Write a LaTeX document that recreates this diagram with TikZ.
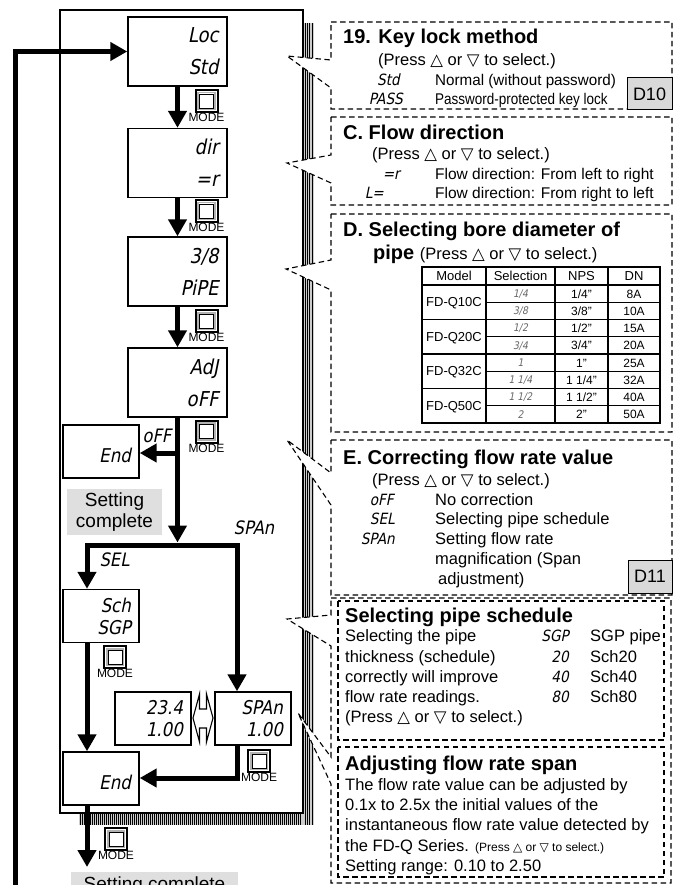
\documentclass[tikz,border=0pt]{standalone}
\usepackage{fontspec}
\setmainfont{Liberation Sans}
\newfontfamily\symf{DejaVu Sans}
\newfontfamily\segf{DejaVu Sans}[FakeSlant=0.2,FakeStretch=0.88]
\usetikzlibrary{arrows.meta}
\newcommand{\prs}{(Press {\symf △} or {\symf ▽} to select.)}
\begin{document}
\begin{tikzpicture}[x=1pt,y=-1pt,
  flow/.style={line width=5pt,-{Triangle[length=17pt,width=18pt]}},
  disp/.style={draw,line width=1.4pt,fill=white,inner xsep=8pt,inner ysep=0pt,align=right},
  bigdisp/.style={disp,minimum width=99pt,minimum height=69pt,text width=82pt,font=\segf\fontsize{20.5}{32}\selectfont},
  smalldisp/.style={disp,minimum width=76pt,minimum height=53pt,text width=60pt,font=\segf\fontsize{19}{22}\selectfont},
  modebtn/.style={draw,line width=2pt,minimum size=22pt,inner sep=0pt,fill=white,label distance=2pt,
    path picture={\draw[gray!60,line width=1.8pt] ([shift={(2.6pt,-2.6pt)}]path picture bounding box.north west) rectangle ([shift={(-2.6pt,2.6pt)}]path picture bounding box.south east);
    \draw[line width=0.5pt] ([shift={(3.8pt,-3.8pt)}]path picture bounding box.north west) rectangle ([shift={(-3.8pt,3.8pt)}]path picture bounding box.south east);},
    label={[modelbl]below:MODE}},
  modelbl/.style={font=\fontsize{12}{12}\selectfont,inner sep=0pt},
  ttl/.style={anchor=west,inner sep=0pt,text height=14.3pt,text depth=0pt,font=\fontsize{20}{24}\selectfont\bfseries},
  txt/.style={anchor=west,inner sep=0pt,text height=11pt,text depth=0pt,font=\fontsize{15.5}{19}\selectfont},
  txtb/.style={anchor=west,inner sep=0pt,text height=11.8pt,text depth=0pt,font=\fontsize{16.5}{19}\selectfont},
  sg/.style={anchor=east,inner sep=0pt,text height=11pt,text depth=0pt,font=\segf\fontsize{15.5}{17}\selectfont},
  cell/.style={inner sep=0pt,text height=9pt,text depth=0pt,font=\fontsize{13}{15}\selectfont},
  ncell/.style={cell,font=\fontsize{12}{14}\selectfont},
  tsg/.style={inner sep=0pt,text height=7.5pt,text depth=0pt,font=\segf\fontsize{10.5}{12}\selectfont,text=black!60},
  panel/.style={draw=black,dash pattern=on 5.5pt off 3.5pt,line width=1.1pt,fill=white},
  dbox/.style={draw,line width=1pt,fill=gray!30,inner sep=0pt,font=\fontsize{18}{18}\selectfont},
  done/.style={fill=gray!25,inner sep=0pt,align=center,font=\fontsize{19}{21}\selectfont},
  seglbl/.style={inner sep=0pt,font=\segf\fontsize{18.5}{20}\selectfont}]
\useasboundingbox (0,0) rectangle (695,885);
\clip (0,0) rectangle (695,885);

% shadow strip
\fill[gray!40] (302,23) rectangle (314,825);
\fill[gray!40] (79,812) rectangle (314,825);
\foreach \x in {80,82,...,300} \draw[line width=0.9pt] (\x,812) -- (\x,825);
\foreach \x in {305,307,309.5,312.5} \draw[line width=0.8pt] (\x,23) -- (\x,825);

% frame
\node[draw,line width=2pt,minimum width=243pt,minimum height=803pt,anchor=north west,inner sep=0pt] (frame) at (59,9) {};

% displays
\node[bigdisp] (loc) at (177.5,51.5) {Loc\\Std};
\node[bigdisp] (dir) at (177.5,163) {dir\\=r};
\node[bigdisp] (pipe) at (177.5,271.5) {3/8\\PiPE};
\node[bigdisp] (adj) at (177.5,382.5) {AdJ\\oFF};
\node[smalldisp] (end1) at (101,451.5) {\mbox{}\\End};
\node[smalldisp] (sch) at (101,616) {Sch\\SGP};
\node[smalldisp] (end2) at (101,778.5) {\mbox{}\\End};
\node[smalldisp] (val) at (153,718.5) {23.4\\1.00};
\node[smalldisp] (span) at (253,718.5) {SPAn\\1.00};

% mode buttons
\node[modebtn] (m1) at (206.5,101) {};
\node[modebtn] (m2) at (206.5,211) {};
\node[modebtn] (m3) at (206.5,321) {};
\node[modebtn] (m4) at (206.5,431.5) {};
\node[modebtn] (m5) at (115,657) {};
\node[modebtn] (m6) at (259,761) {};
\node[modebtn] (m7) at (116,839) {};

% labels
\node[seglbl] (lboff) at (157,436) {oFF};
\node[seglbl] (lbspan) at (254,528) {SPAn};
\node[seglbl] (lbsel) at (114.5,560) {SEL};
\node[done,minimum width=95pt,minimum height=46pt] (done1) at (114.5,512) {Setting\\complete};
\node[done,minimum width=167pt,anchor=north,inner ysep=4pt,text height=14pt,text depth=8pt] (done2) at (154.5,872) {Setting complete};

% flow connectors
\coordinate (loopstart) at (15,900);
\draw[flow] (loopstart) |- (loc.west);
\draw[flow] (loc.south) -- (dir.north);
\draw[flow] (dir.south) -- (pipe.north);
\draw[flow] (pipe.south) -- (adj.north);
\coordinate (offsplit) at (177.5,453);
\coordinate (tr) at (177.5,545);
\coordinate (bl) at (87,545);
\coordinate (br) at (237,545);
\draw[flow,shorten >=2.5pt] (adj.south) -- (tr);
\draw[flow] (offsplit) -- (end1.east |- offsplit);
\draw[line width=5pt,{Triangle[length=17pt,width=18pt]}-{Triangle[length=17pt,width=18pt]}] (sch.north -| bl) -- (bl) -- (br) -- (span.north -| br);
\draw[flow] (sch.south -| bl) -- (end2.north -| bl);
\coordinate (sp2) at (237,778);
\draw[flow] (span.south -| br) -- (sp2) -- (end2.east |- sp2);
\coordinate (out) at (87,867);
\draw[flow] (end2.south -| bl) -- (out);

% toggle symbol
\draw[line width=1.1pt,fill=white] (193,718) -- (199.5,694) -- (199.5,709) -- (206.5,709) -- (206.5,694) -- (213,718) -- (206.5,742) -- (206.5,728) -- (199.5,728) -- (199.5,742) -- cycle;

% callout panels
\draw[panel] (331,22) -- (672,22) -- (672,109) -- (331,109) -- (331,88) -- (287,56) -- (331,60) -- cycle;
\draw[panel] (331,117) -- (672,117) -- (672,205) -- (331,205) -- (331,183) -- (287,163) -- (331,155) -- cycle;
\draw[panel] (331,214) -- (672,214) -- (672,432) -- (331,432) -- (331,290) -- (286,269) -- (331,260) -- cycle;
\draw[panel] (331,440) -- (672,440) -- (672,595) -- (331,595) -- (331,505) -- (287,440) -- (331,473) -- cycle;
\draw[panel] (331,598) -- (671,598) -- (671,883) -- (331,883) -- (331,784) -- (298,713) -- (331,757) -- (331,646) -- (287,619) -- (331,615) -- cycle;
\draw[panel] (338,601) rectangle (664,740);
\draw[panel] (338,747) rectangle (664,877);

% panel 19
\node[ttl] (t19) at (343,36) {19. Key lock method};
\node[txtb] (p19) at (378,60) {\prs};
\node[sg] (s19a) at (400,80) {Std};
\node[txt] (d19a) at (435,80) {\scalebox{0.98}[1]{Normal (without password)}};
\node[sg] (s19b) at (403,99) {PASS};
\node[txt] (d19b) at (435,99) {\scalebox{0.87}[1]{Password-protected key lock}};
\node[dbox,minimum width=45pt,minimum height=32pt] (d10) at (649.5,94) {D10};

% panel C
\node[ttl] (tc) at (343,132) {C. Flow direction};
\node[txtb] (pc) at (372,154) {\prs};
\node[sg] (sca) at (400,174) {=r};
\node[txt] (dca) at (435,174) {Flow direction: From left to right};
\node[sg] (scb) at (384,193) {L=};
\node[txt] (dcb) at (435,193) {Flow direction: From right to left};

% panel D
\node[ttl] (td) at (343,229) {D. Selecting bore diameter of};
\node[ttl] (td2) at (373,252) {pipe \fontsize{16.5}{19}\selectfont\mdseries\prs};
\draw[line width=1.5pt] (422,267) rectangle (660,423);
\draw[line width=1.5pt] (422,285) -- (660,285);
\foreach \y in {319.5,354,388.5} \draw[line width=1.5pt] (422,\y) -- (660,\y);
\foreach \y in {302.25,336.75,371.25,405.75} \draw[line width=0.8pt] (486,\y) -- (660,\y);
\foreach \x in {486,555,608} \draw[line width=1.3pt] (\x,267) -- (\x,423);
\node[cell] (h1) at (454,276) {Model};
\node[cell] (h2) at (520.5,276) {Selection};
\node[cell] (h3) at (581.5,276) {NPS};
\node[cell] (h4) at (634,276) {DN};
\node[cell] (mq10) at (454,302.25) {FD-Q10C};
\node[cell] (mq20) at (454,336.75) {FD-Q20C};
\node[cell] (mq32) at (454,371.25) {FD-Q32C};
\node[cell] (mq50) at (454,405.75) {FD-Q50C};
\node[tsg] (sa) at (520.5,293.6) {1/4};
\node[tsg] (sb) at (520.5,310.9) {3/8};
\node[tsg] (sc) at (520.5,328.1) {1/2};
\node[tsg] (sd) at (520.5,345.4) {3/4};
\node[tsg] (se) at (520.5,362.6) {1};
\node[tsg] (sf) at (520.5,379.9) {1 1/4};
\node[tsg] (sg1) at (520.5,397.1) {1 1/2};
\node[tsg] (sh) at (520.5,414.4) {2};
\node[ncell] (na) at (581.5,293.6) {1/4"};
\node[ncell] (nb) at (581.5,310.9) {3/8"};
\node[ncell] (nc) at (581.5,328.1) {1/2"};
\node[ncell] (nd) at (581.5,345.4) {3/4"};
\node[ncell] (ne) at (581.5,362.6) {1"};
\node[ncell] (nf) at (581.5,379.9) {1 1/4"};
\node[ncell] (ng) at (581.5,397.1) {1 1/2"};
\node[ncell] (nh) at (581.5,414.4) {2"};
\node[ncell] (da) at (634,293.6) {8A};
\node[ncell] (db) at (634,310.9) {10A};
\node[ncell] (dc) at (634,328.1) {15A};
\node[ncell] (dd) at (634,345.4) {20A};
\node[ncell] (de) at (634,362.6) {25A};
\node[ncell] (df) at (634,379.9) {32A};
\node[ncell] (dg) at (634,397.1) {40A};
\node[ncell] (dh) at (634,414.4) {50A};

% panel E
\node[ttl] (te) at (343,457) {E. Correcting flow rate value};
\node[txtb] (pe) at (372,480) {\prs};
\node[sg] (sea) at (394,500) {oFF};
\node[sg] (seb) at (395,519) {SEL};
\node[sg] (sec) at (395,539) {SPAn};
\node[txtb] (dea) at (435,500) {No correction};
\node[txtb] (deb) at (435,519) {Selecting pipe schedule};
\node[txtb] (dec) at (435,539) {Setting flow rate};
\node[txtb] (ded) at (435,559) {magnification (Span};
\node[txtb] (dee) at (438,579) {adjustment)};
\node[dbox,minimum width=44pt,minimum height=33pt] (d11) at (650,576.5) {D11};

% panel pipe schedule
\node[ttl] (tp) at (345,615) {Selecting pipe schedule};
\node[txtb] (pa) at (345,636) {Selecting the pipe};
\node[txtb] (pb) at (345,657) {thickness (schedule)};
\node[txtb] (pc2) at (345,677) {correctly will improve};
\node[txtb] (pd) at (345,697) {flow rate readings.};
\node[txtb] (pe2) at (345,717) {\prs};
\node[sg] (spa) at (569,636) {SGP};
\node[sg] (spb) at (569,657) {20};
\node[sg] (spc) at (569,677) {40};
\node[sg] (spd) at (569,697) {80};
\node[txtb] (dpa) at (590,636) {SGP pipe};
\node[txtb] (dpb) at (590,657) {Sch20};
\node[txtb] (dpc) at (590,677) {Sch40};
\node[txtb] (dpd) at (590,697) {Sch80};

% panel span
\node[ttl] (ta) at (345,763) {Adjusting flow rate span};
\node[txtb] (aa) at (345,785) {The flow rate value can be adjusted by};
\node[txtb] (ab) at (345,805) {0.1x to 2.5x the initial values of the};
\node[txtb] (ac) at (345,825) {instantaneous flow rate value detected by};
\node[txtb] (ad) at (345,846) {the FD-Q Series. {\fontsize{12}{14}\selectfont\prs}};
\node[txtb] (ae) at (345,866) {Setting range: 0.10 to 2.50};
\end{tikzpicture}
\end{document}
